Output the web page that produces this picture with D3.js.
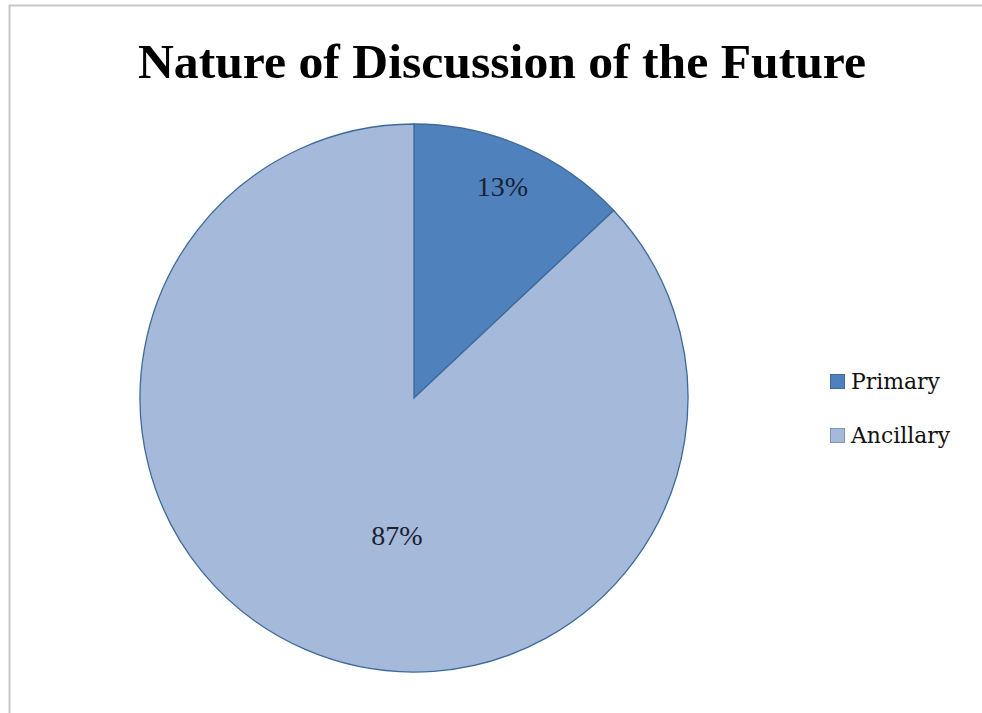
<!DOCTYPE html>
<html><head><meta charset="utf-8">
<script src="https://cdn.jsdelivr.net/npm/d3@7"></script>
<style>body{margin:0;background:#fff}svg{display:block}</style>
</head><body>
<svg id="c" width="982" height="713"></svg>
<script>
const categories = ["Primary", "Ancillary"];
const values = [13, 87];
const labels = ["13%", "87%"];
const colors = ["#4f81bd", "#a5b9da"];

const svg = d3.select("#c");
const W = 982, H = 713;
svg.append("rect").attr("x", 9.5).attr("y", 5.5).attr("width", W + 10).attr("height", H + 10)
  .attr("fill", "#fff").attr("stroke", "#c8c8c8").attr("stroke-width", 2);

svg.append("text").attr("x", 502).attr("y", 78).attr("text-anchor", "middle")
  .attr("font-family", "Liberation Serif, DejaVu Serif, serif").attr("font-weight", "bold")
  .attr("font-size", 48).attr("fill", "#000")
  .attr("textLength", 728).attr("lengthAdjust", "spacingAndGlyphs")
  .text("Nature of Discussion of the Future");

const cx = 414, cy = 398, R = 274;
const pie = d3.pie().sort(null).value(d => d)(values);
const arc = d3.arc().innerRadius(0).outerRadius(R);
const g = svg.append("g").attr("transform", `translate(${cx},${cy})`);
g.selectAll("path").data(pie).join("path")
  .attr("d", arc).attr("fill", (d, i) => colors[i])
  .attr("stroke", "#3e6a9a").attr("stroke-width", 1.3);

// label positions: polar (fraction of radius, angle in degrees from top)
const labelPolar = [[0.838, 22.65], [0.504, 187.1]];
g.selectAll("text.lbl").data(pie).join("text").attr("class", "lbl")
  .attr("x", (d, i) => labelPolar[i][0] * R * Math.sin(labelPolar[i][1] * Math.PI / 180))
  .attr("y", (d, i) => -labelPolar[i][0] * R * Math.cos(labelPolar[i][1] * Math.PI / 180))
  .attr("dy", "0.34em").attr("text-anchor", "middle")
  .attr("font-family", "Liberation Serif, DejaVu Serif, serif").attr("font-size", 28)
  .attr("fill", "#1a1f33").text((d, i) => labels[i]);

const legWidths = [89, 99];
const leg = svg.append("g").attr("transform", "translate(830,374)");
categories.forEach((c, i) => {
  const y = i * 54;
  leg.append("rect").attr("x", 0.5).attr("y", y + 0.5).attr("width", 14).attr("height", 14)
    .attr("fill", colors[i]).attr("stroke", i ? "#7f95b8" : "#3e6a9a").attr("stroke-width", 1);
  leg.append("text").attr("x", 21).attr("y", y + 7.5).attr("dy", "0.35em")
    .attr("font-family", "DejaVu Serif, Liberation Serif, serif").attr("font-size", 22)
    .attr("textLength", legWidths[i]).attr("lengthAdjust", "spacingAndGlyphs")
    .attr("fill", "#111").text(c);
});
</script>
</body></html>
